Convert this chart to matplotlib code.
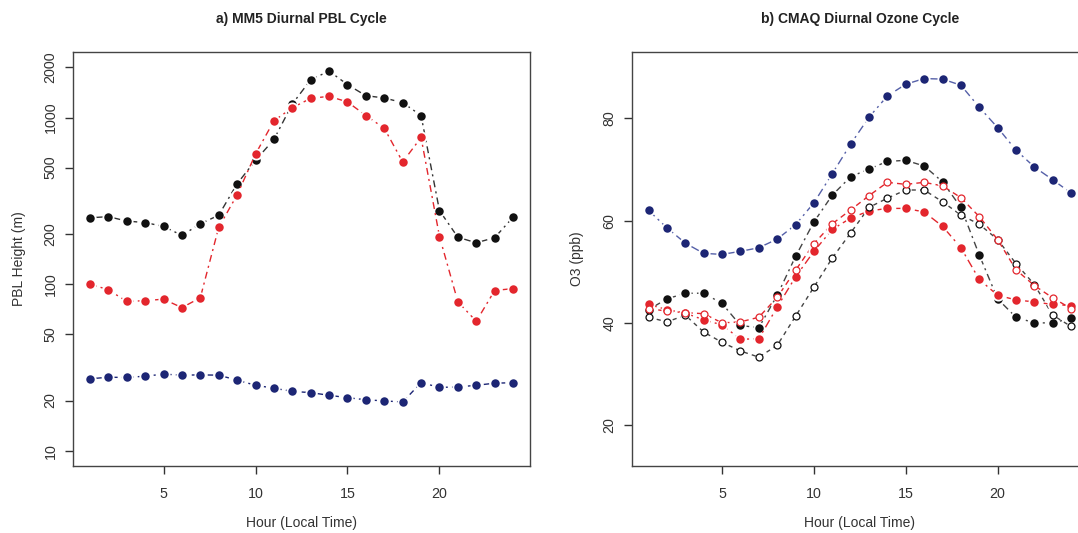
import matplotlib
matplotlib.use("Agg")
import matplotlib.pyplot as plt
from matplotlib.ticker import FixedLocator, NullLocator, NullFormatter

plt.rcParams['font.family'] = ['Liberation Sans', 'DejaVu Sans']

hours = list(range(1, 25))

# Panel a: PBL height (m)
pbl_black = [250, 254, 239, 234, 222, 196, 230, 259, 400, 553, 738, 1205,
             1686, 1900, 1575, 1352, 1310, 1228, 1028, 276, 191, 177, 190, 252]
pbl_red = [100, 92.5, 78.7, 79.5, 81.2, 72.2, 82.8, 219, 343, 603, 955, 1145,
           1303, 1340, 1240, 1028, 861, 541, 759, 193, 78.3, 59.8, 91.5, 94]
pbl_blue = [27.0, 27.6, 27.5, 28.0, 28.8, 28.4, 28.5, 28.4, 26.5, 24.7, 23.7, 22.7,
            22.3, 21.5, 20.8, 20.2, 19.9, 19.6, 25.6, 24.0, 24.1, 24.7, 25.4, 25.6]
pbl_ticks = [10, 20, 50, 100, 200, 500, 1000, 2000]

# Panel b: O3 (ppb)
o3_blue = [62.0, 58.6, 55.6, 53.6, 53.4, 54.0, 54.7, 56.4, 59.2, 63.5, 69.2, 75.0,
           80.25, 84.4, 86.7, 87.8, 87.7, 86.5, 82.2, 78.2, 73.8, 70.5, 68.0, 65.4]
o3_black = [42.6, 44.7, 45.8, 45.8, 43.8, 39.5, 39.05, 45.4, 53.0, 59.75, 65.0, 68.6,
            70.1, 71.6, 71.8, 70.7, 67.6, 62.6, 53.3, 44.7, 41.1, 40.0, 40.0, 40.9]
o3_red = [43.6, 42.6, 41.9, 40.6, 39.6, 36.8, 36.9, 43.1, 49.0, 54.0, 58.3, 60.5,
          61.9, 62.4, 62.4, 61.7, 58.9, 54.7, 48.5, 45.4, 44.5, 44.1, 43.6, 43.4]
o3_red_open = [42.8, 42.3, 42.0, 41.8, 40.0, 40.2, 41.1, 45.0, 50.3, 55.5, 59.4, 62.1,
               64.9, 67.5, 67.1, 67.5, 66.8, 64.5, 60.8, 56.3, 50.4, 47.3, 44.9, 42.8]
o3_black_open = [41.1, 40.2, 41.5, 38.2, 36.2, 34.5, 33.3, 35.6, 41.3, 47.0, 52.7, 57.6,
                 62.6, 64.4, 66.0, 66.0, 63.7, 61.1, 59.3, 56.3, 51.6, 47.5, 41.5, 39.3]
o3_ticks = [20, 40, 60, 80]
x_ticks = [5, 10, 15, 20]

RED = '#e3262d'
NAVY = '#1d2675'
BLACK = '#111111'

W, H = 1078, 533
fig = plt.figure(figsize=(W / 100, H / 100), dpi=100)

def fx(px):
    return px / W

def fy(py):
    return 1 - py / H

ax1 = fig.add_axes([fx(73), fy(466), fx(530) - fx(73), fy(52) - fy(466)])
ax2 = fig.add_axes([fx(631.7), fy(466), fx(1088) - fx(631.7), fy(52) - fy(466)])

ms = 7.4
mew = 1.3

def series(ax, y, lc, mc, ls, filled=True, lw=1.0, z=3):
    if filled:
        ax.plot(hours, y, color=lc, linestyle=ls, linewidth=lw, marker='o',
                markersize=ms, markerfacecolor=mc, markeredgecolor='white',
                markeredgewidth=mew, zorder=z)
    else:
        ax.plot(hours, y, color=lc, linestyle=ls, linewidth=lw, zorder=z)
        ax.plot(hours, y, linestyle='none', marker='o', markersize=5.0,
                markerfacecolor='white', markeredgecolor=mc,
                markeredgewidth=0.9, zorder=z + 0.5)

# ---- Panel a
series(ax1, pbl_black, '#333333', BLACK, (0, (1.5, 3, 5, 3)))
series(ax1, pbl_red, RED, RED, (0, (5, 3, 1.5, 3)))
series(ax1, pbl_blue, NAVY, NAVY, (0, (1.5, 3, 4, 3)))
ax1.set_yscale('log')
ax1.set_ylim(8.09, 2473)
ax1.yaxis.set_major_locator(FixedLocator(pbl_ticks))
ax1.yaxis.set_minor_locator(NullLocator())
ax1.yaxis.set_minor_formatter(NullFormatter())
ax1.set_yticklabels([str(t) for t in pbl_ticks])
ax1.set_ylabel('PBL Height (m)', fontsize=10, color='#333333', labelpad=13)
ax1.set_title('a) MM5 Diurnal PBL Cycle', fontsize=10, fontweight='bold',
              color='#222222', pad=21)

# ---- Panel b
series(ax2, o3_blue, '#5560a8', NAVY, (0, (6, 3, 1.5, 3)))
series(ax2, o3_black_open, '#444444', BLACK, (0, (3, 3)), filled=False)
series(ax2, o3_red_open, RED, RED, (0, (4, 3)), filled=False)
series(ax2, o3_black, '#444444', BLACK, (0, (1.5, 3, 5, 3)))
series(ax2, o3_red, RED, RED, (0, (6, 3, 1.5, 3)))
ax2.set_ylim(12, 93)
ax2.set_yticks(o3_ticks)
ax2.set_yticklabels([str(t) for t in o3_ticks])
ax2.set_ylabel('O3 (ppb)', fontsize=10, color='#333333', labelpad=13)
ax2.set_title('b) CMAQ Diurnal Ozone Cycle', fontsize=10, fontweight='bold',
              color='#222222', pad=21)

for ax in (ax1, ax2):
    ax.set_xlim(0.08, 24.92)
    ax.set_xticks(x_ticks)
    ax.set_xticklabels([str(t) for t in x_ticks])
    ax.set_xlabel('Hour (Local Time)', fontsize=10, color='#333333', labelpad=11)
    ax.tick_params(axis='both', direction='out', length=6, width=1.0,
                   color='#333333', labelcolor='#333333', labelsize=10.3)
    ax.tick_params(axis='x', pad=9)
    ax.tick_params(axis='y', pad=5)
    for lab in ax.get_yticklabels():
        lab.set_rotation(90)
        lab.set_va('center')
    for sp in ax.spines.values():
        sp.set_color('#444444')
        sp.set_linewidth(1.0)
    ax.set_facecolor('white')

fig.savefig('out.png', dpi=100, facecolor='white')
